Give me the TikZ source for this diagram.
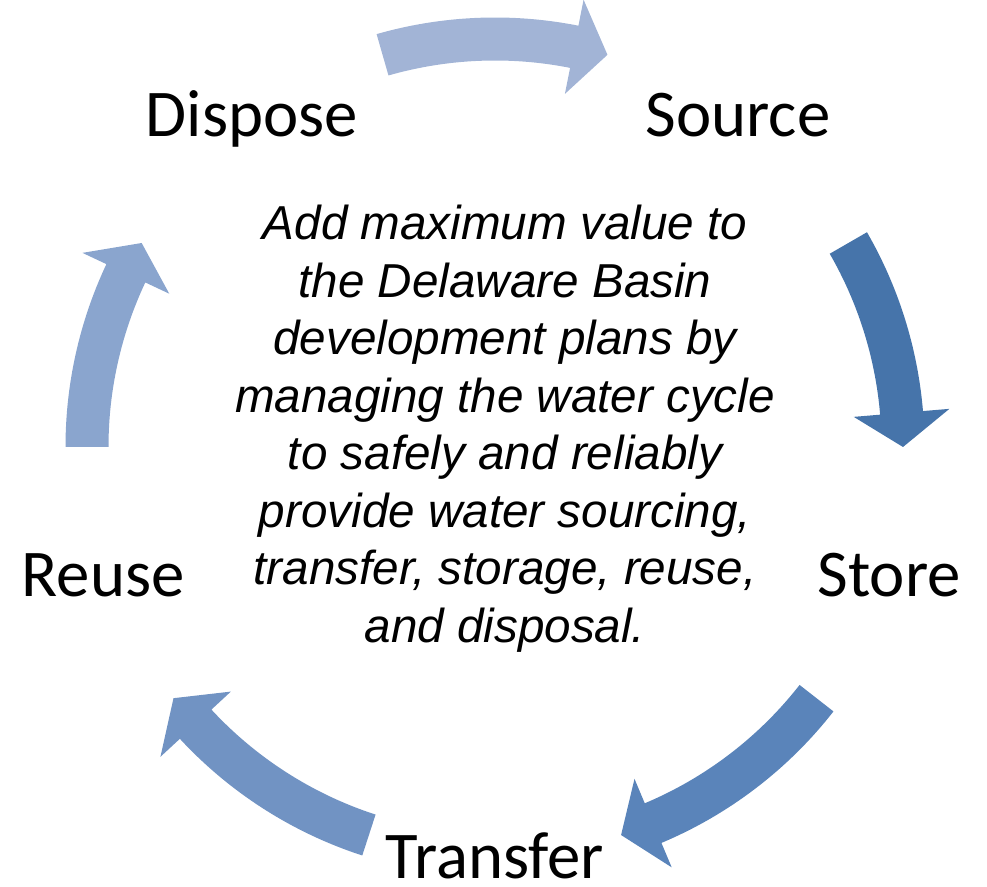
\documentclass[tikz,border=0pt]{standalone}
\usepackage{fontspec}
\setmainfont{Carlito}
\newfontfamily\arialfont{Liberation Sans}
\definecolor{arrowsource}{HTML}{A2B4D6}
\definecolor{arrowstore}{HTML}{4674AA}
\definecolor{arrowtransfer}{HTML}{5A84BA}
\definecolor{arrowreuse}{HTML}{7193C3}
\definecolor{arrowdispose}{HTML}{8AA5CE}
% curved block arrow: tail angle, tip angle, colour
\newcommand{\cyclearrow}[3]{%
  \fill[#3] (#1:429.5) arc[start angle=#1, end angle=#2+4.8, radius=429.5]
    -- (#2+4.8:456) -- (#2:408) -- (#2+4.8:360) -- (#2+4.8:386.5)
    arc[start angle=#2+4.8, end angle=#1, radius=386.5] -- cycle;}
\begin{document}
\begin{tikzpicture}[x=0.02cm, y=0.02cm,
    lbl/.style={anchor=base, inner sep=0pt, font=\fontsize{38}{45}\selectfont},
    goal/.style={anchor=north, inner sep=0pt, align=center,
      font=\arialfont\itshape\fontsize{27.1}{32.7}\selectfont}]
    \useasboundingbox (0,0) rectangle (987,886);
    \coordinate (c) at (495,439);

    % the five steps of the cycle
    \node[lbl] (source) at (738,749) {Source};
    \node[lbl] (store) at (889,289) {Store};
    \node[lbl] (transfer) at (495,8) {Transfer};
    \node[lbl] (reuse) at (103,289) {Reuse};
    \node[lbl] (dispose) at (252,749) {Dispose};

    % arrows round the circle
    \begin{scope}[shift={(c)}]
        \cyclearrow{106}{74}{arrowsource}
        \cyclearrow{30}{0}{arrowstore}
        \cyclearrow{-38}{-72}{arrowtransfer}
        \cyclearrow{-108}{-142}{arrowreuse}
        \cyclearrow{180}{150}{arrowdispose}
    \end{scope}

    % goal statement in the middle
    \node[goal] (goal) at (505,681) {Add maximum value to\\the Delaware Basin\\development plans by\\managing the water cycle\\to safely and reliably\\provide water sourcing,\\transfer, storage, reuse,\\and disposal.};
\end{tikzpicture}
\end{document}
